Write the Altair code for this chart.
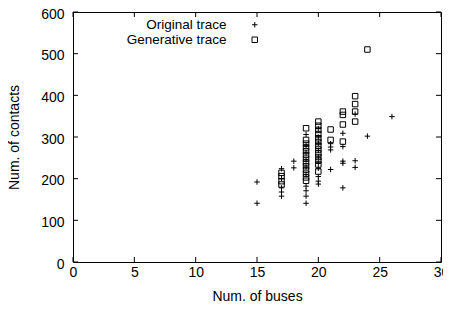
import altair as alt
import pandas as pd

# Original trace
orig_x = [15, 15,
          17, 17, 17, 17, 17,
          18, 18,
          19, 19, 19, 19, 19, 19, 19, 19, 19, 19,
          20, 20, 20, 20, 20, 20, 20, 20, 20, 20,
          21, 21, 21, 21,
          22, 22, 22, 22, 22,
          23, 23, 23,
          24,
          26]
orig_y = [192, 141,
          224, 200, 178, 168, 158,
          242, 226,
          306, 280, 262, 245, 228, 210, 182, 171, 158, 141,
          320, 300, 285, 268, 252, 238, 225, 205, 194, 187,
          284, 276, 269, 222,
          309, 277, 242, 237, 178,
          355, 243, 227,
          302,
          349]

# Generative trace
gen_x = [17, 17, 17, 17,
         19, 19, 19, 19, 19, 19, 19, 19, 19, 19, 19, 19, 19,
         20, 20, 20, 20, 20, 20, 20, 20, 20, 20, 20, 20, 20,
         21, 21,
         22, 22, 22, 22,
         23, 23, 23, 23,
         24]
gen_y = [214, 206, 194, 186,
         321, 293, 284, 275, 266, 257, 248, 239, 230, 221, 212, 203, 195,
         337, 327, 317, 307, 297, 288, 279, 270, 261, 252, 243, 234, 217,
         318, 293,
         361, 353, 330, 289,
         398, 379, 361, 337,
         510]

series_names = ["Original trace", "Generative trace"]
x_ticks = [0, 5, 10, 15, 20, 25, 30]
y_ticks = [0, 100, 200, 300, 400, 500, 600]

W, H = 368, 250
FONT = "Liberation Sans"
PLUS = "M-1,0L1,0M0,-1L0,1"

df = pd.concat([
    pd.DataFrame({"buses": orig_x, "contacts": orig_y, "trace": series_names[0]}),
    pd.DataFrame({"buses": gen_x, "contacts": gen_y, "trace": series_names[1]}),
])

xs = alt.Scale(domain=[0, 30], nice=False)
ys = alt.Scale(domain=[0, 600], nice=False)

points = alt.Chart(df).mark_point(filled=False, strokeWidth=1, opacity=1).encode(
    x=alt.X("buses:Q", scale=xs, title="Num. of buses",
            axis=alt.Axis(values=x_ticks, ticks=False, domain=False, grid=False,
                          labelFontSize=14, labelFont=FONT, labelColor="black",
                          labelPadding=3, titleFontSize=14, titleFont=FONT,
                          titleFontWeight="normal", titleColor="black", titlePadding=10,
                          labelFlush=False)),
    y=alt.Y("contacts:Q", scale=ys, title="Num. of contacts",
            axis=alt.Axis(values=y_ticks, ticks=False, domain=False, grid=False,
                          labelFontSize=14, labelFont=FONT, labelColor="black",
                          labelPadding=9, labelOffset=2, titleFontSize=14, titleFont=FONT,
                          titleFontWeight="normal", titleColor="black", titlePadding=19,
                          labelFlush=False)),
    shape=alt.Shape("trace:N", scale=alt.Scale(domain=series_names, range=[PLUS, "square"]),
                    legend=alt.Legend(title=None, orient="none", legendX=175, legendY=6,
                                      labelAlign="right", labelOffset={"expr": "-35"},
                                      labelFontSize=13.5, labelFont=FONT, labelColor="black",
                                      symbolStrokeColor="black", symbolStrokeWidth=1,
                                      symbolFillColor="transparent",
                                      symbolSize=30, rowPadding=0, padding=0)),
    size=alt.value(30),
    color=alt.value("black"),
)

xt = pd.DataFrame({"v": x_ticks})
yt = pd.DataFrame({"v": y_ticks})
tl = 5
tick_x_bot = alt.Chart(xt).mark_rule(color="black").encode(
    x=alt.X("v:Q", scale=xs), y=alt.value(H), y2=alt.value(H - tl))
tick_x_top = alt.Chart(xt).mark_rule(color="black").encode(
    x=alt.X("v:Q", scale=xs), y=alt.value(0), y2=alt.value(tl))
tick_y_left = alt.Chart(yt).mark_rule(color="black").encode(
    y=alt.Y("v:Q", scale=ys), x=alt.value(0), x2=alt.value(tl))
tick_y_right = alt.Chart(yt).mark_rule(color="black").encode(
    y=alt.Y("v:Q", scale=ys), x=alt.value(W), x2=alt.value(W - tl))

chart = alt.layer(points, tick_x_bot, tick_x_top, tick_y_left, tick_y_right).properties(
    width=W, height=H,
    autosize=alt.AutoSizeParams(type="none"),
    padding={"left": 65, "top": 4, "right": 2, "bottom": 40},
    background="white",
).configure_view(stroke="black", strokeWidth=1)

chart.save("out.html", embed_options={"renderer": "svg", "actions": False})
